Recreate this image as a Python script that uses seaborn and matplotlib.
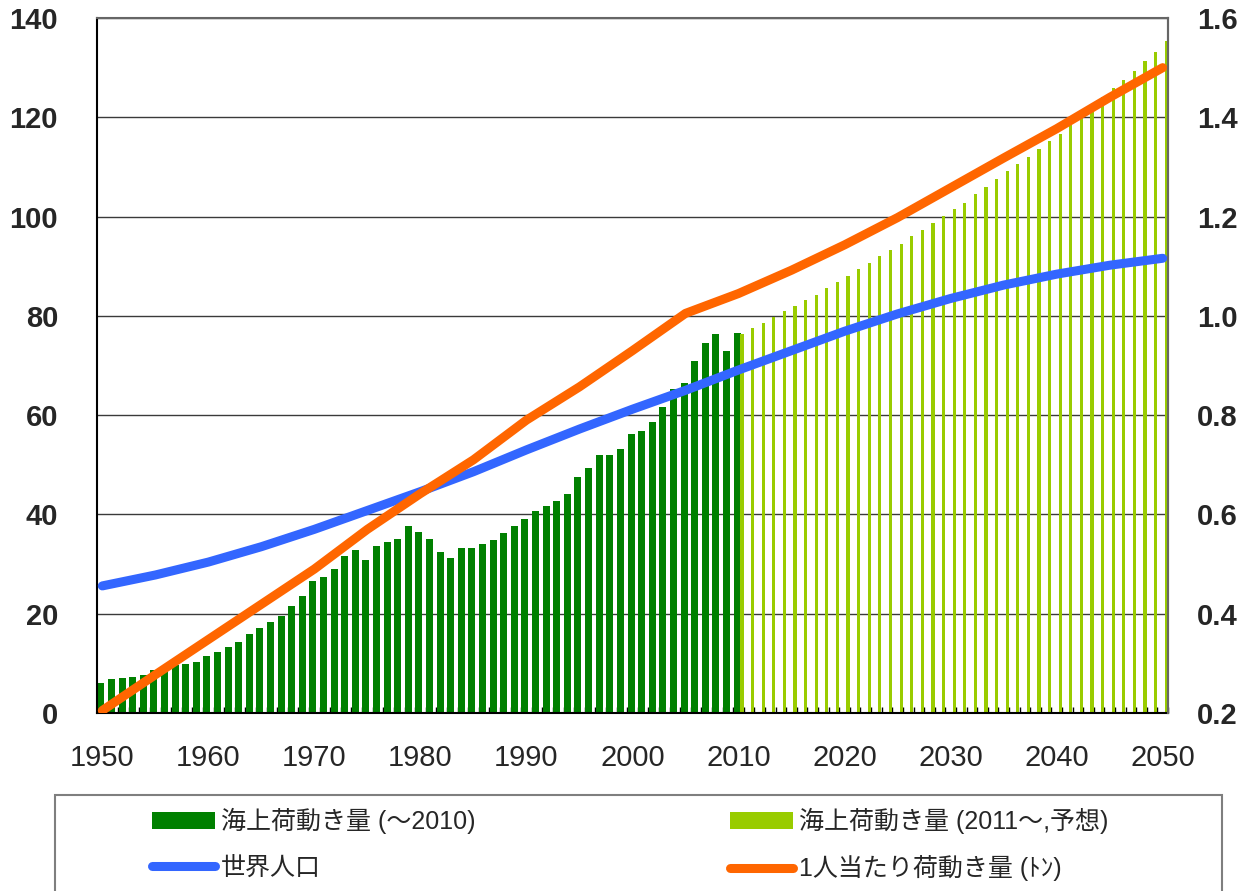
import numpy as np
import pandas as pd
import seaborn as sns
import matplotlib
matplotlib.use("Agg")
import matplotlib.pyplot as plt
from matplotlib.patches import Rectangle, Patch
from matplotlib.lines import Line2D

# ---------------- data ----------------
years_actual = list(range(1950, 2011))
cargo_actual = [6.0, 6.8, 7.1, 7.2, 7.7, 8.7, 9.3, 9.6, 9.9, 10.3,
                11.5, 12.3, 13.2, 14.3, 15.9, 17.1, 18.4, 19.5, 21.6, 23.6,
                26.5, 27.4, 29.1, 31.6, 32.9, 30.9, 33.6, 34.4, 35.1, 37.7,
                36.5, 35.0, 32.4, 31.3, 33.3, 33.3, 34.1, 34.9, 36.2, 37.7,
                39.1, 40.6, 41.7, 42.8, 44.2, 47.5, 49.4, 52.0, 52.0, 53.2,
                56.3, 56.9, 58.6, 61.7, 65.2, 66.4, 70.9, 74.6, 76.4, 72.9,
                76.5]

years_forecast = list(range(2010, 2051))
cargo_forecast = [76.3, 77.6, 78.6, 79.8, 80.9, 82.0, 83.2, 84.3, 85.6, 86.8,
                  88.0, 89.4, 90.7, 92.1, 93.3, 94.5, 96.1, 97.3, 98.7, 100.1,
                  101.5, 102.8, 104.5, 105.9, 107.5, 109.1, 110.5, 112.1, 113.7, 115.3,
                  116.6, 118.4, 120.4, 122.3, 124.1, 125.9, 127.6, 129.3, 131.3, 133.1,
                  135.3]

line_years = list(range(1950, 2051, 5))
world_population = [25.6, 27.8, 30.4, 33.5, 37.0, 40.8, 44.6, 48.6, 53.0, 57.2,
                     61.2, 65.0, 69.1, 73.0, 76.9, 80.4, 83.5, 86.2, 88.4, 90.2,
                     91.6]
cargo_per_capita = [0.205, 0.277, 0.348, 0.419, 0.49, 0.57, 0.642, 0.71, 0.79, 0.857,
                    0.93, 1.005, 1.045, 1.092, 1.143, 1.198, 1.258, 1.318, 1.377, 1.44,
                    1.50]

x_ticks = list(range(1950, 2051, 10))
left_ticks = [0, 20, 40, 60, 80, 100, 120, 140]
right_ticks = [0.2, 0.4, 0.6, 0.8, 1.0, 1.2, 1.4, 1.6]

labels = ["海上荷動き量 (～2010)", "海上荷動き量 (2011～,予想)",
          "世界人口", "1人当たり荷動き量 (ﾄﾝ)"]

c_dark = "#008000"
c_light = "#99CC00"
c_blue = "#3366FF"
c_orange = "#FF6600"

# ---------------- style ----------------
sns.set_theme(style="white")
plt.rcParams["font.family"] = ["Liberation Sans", "Noto Sans CJK JP", "DejaVu Sans"]

W, H = 1250, 891
fig = plt.figure(figsize=(W / 100, H / 100), dpi=100)
ax = fig.add_axes([97 / W, (H - 713) / H, (1168 - 97) / W, (713 - 18) / H])

df_a = pd.DataFrame({"year": years_actual, "cargo": cargo_actual})
df_f = pd.DataFrame({"year": years_forecast, "cargo": cargo_forecast})

sns.barplot(x=df_a["year"] - 0.14, y=df_a["cargo"], native_scale=True, width=0.66,
            color=c_dark, saturation=1, errorbar=None, linewidth=0, ax=ax)
sns.barplot(x=df_f["year"] + 0.33, y=df_f["cargo"], native_scale=True, width=0.30,
            color=c_light, saturation=1, errorbar=None, linewidth=0, ax=ax)

sns.lineplot(x=line_years, y=world_population, ax=ax, color=c_blue, linewidth=6.5,
             solid_capstyle="round", zorder=5)

ax.set_xlim(1949.5, 2050.5)
ax.set_ylim(0, 140)
ax.set_yticks(left_ticks)
ax.set_yticklabels([str(v) for v in left_ticks], fontsize=21, fontweight="bold")
ax.set_xticks(x_ticks)
ax.set_xticklabels([str(v) for v in x_ticks], fontsize=21)
ax.set_xticks(np.arange(1949.5, 2051, 1), minor=True)
ax.tick_params(axis="x", which="major", length=0, pad=22)
ax.tick_params(axis="x", which="minor", direction="in", length=4, width=1,
               color="black", bottom=True)
ax.tick_params(axis="y", which="major", length=0, pad=28)
ax.set_xlabel("")
ax.set_ylabel("")
ax.yaxis.grid(True, color="#3a3a3a", linewidth=1)
ax.xaxis.grid(False)
ax.set_axisbelow(True)
for s in ["left", "bottom"]:
    ax.spines[s].set_color("black")
    ax.spines[s].set_linewidth(1.5)
for s in ["top", "right"]:
    ax.spines[s].set_color("#666666")
    ax.spines[s].set_linewidth(1.5)

ax2 = ax.twinx()
sns.lineplot(x=line_years, y=cargo_per_capita, ax=ax2, color=c_orange, linewidth=6.5,
             solid_capstyle="round")
ax2.set_ylim(0.2, 1.6)
ax2.set_yticks(right_ticks)
ax2.set_yticklabels([f"{v:.1f}" for v in right_ticks], fontsize=21, fontweight="bold")
ax2.tick_params(axis="y", which="major", length=0, pad=21)
ax2.set_ylabel("")
ax2.grid(False)
for s in ["left", "bottom", "top"]:
    ax2.spines[s].set_visible(False)
ax2.spines["right"].set_color("#666666")
ax2.spines["right"].set_linewidth(1.5)
ax2.patch.set_visible(False)

# ---------------- legend ----------------
h_dark = Patch(facecolor=c_dark, edgecolor="none")
h_light = Patch(facecolor=c_light, edgecolor="none")
h_blue = Line2D([], [], color=c_blue, linewidth=6.5, solid_capstyle="round")
h_orange = Line2D([], [], color=c_orange, linewidth=6.5, solid_capstyle="round")

common = dict(loc="upper left", frameon=False, fontsize=18, handlelength=2.5,
              handletextpad=0.25, labelspacing=0.85, borderpad=0, borderaxespad=0)
fig.legend([h_dark, h_blue], [labels[0], labels[2]],
           bbox_to_anchor=(152 / W, (H - 808) / H), **common)
fig.legend([h_light, h_orange], [labels[1], labels[3]],
           bbox_to_anchor=(730 / W, (H - 808) / H), **common)

fig.add_artist(Rectangle((55 / W, -0.05), (1222 - 55) / W, 0.05 + (H - 795) / H,
                         transform=fig.transFigure, fill=False,
                         edgecolor="#7f7f7f", linewidth=1.5))

fig.savefig("out.png", dpi=100)
